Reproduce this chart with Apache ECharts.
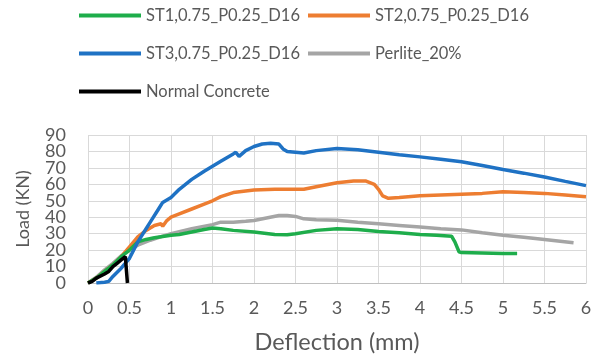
<!DOCTYPE html>
<html><head><meta charset="utf-8">
<script src="https://cdn.jsdelivr.net/npm/echarts@6/dist/echarts.min.js"></script>
<style>html,body{margin:0;padding:0;background:#fff}#c{width:603px;height:360px}</style>
</head><body><div id="c"></div>
<script>
const seriesNames = ["ST1,0.75_P0.25_D16","ST2,0.75_P0.25_D16","ST3,0.75_P0.25_D16","Perlite_20%","Normal Concrete"];
const colors = ["#1EAD4B","#ED7D31","#1F72C4","#A5A5A5","#000000"];
const xTicks = [0,0.5,1,1.5,2,2.5,3,3.5,4,4.5,5,5.5,6];
const yTicksEven = [0,20,40,60,80];
const yTicksOdd = [10,30,50,70,90];

const st1 = [[0,0],[0.1,3],[0.2,7],[0.3,11],[0.4,16],[0.5,20],[0.6,25],[0.7,26.5],[0.8,27.5],[1,29],[1.1,29.5],[1.25,31],[1.4,32.5],[1.5,33.5],[1.6,33],[1.75,32],[2,31],[2.25,29.5],[2.4,29.3],[2.5,30],[2.75,32],[3,33],[3.25,32.5],[3.5,31.3],[3.75,30.5],[4,29.5],[4.2,29],[4.38,28.5],[4.42,25],[4.47,19],[4.5,18.5],[4.75,18.3],[5,18],[5.17,18]];
const st2 = [[0,0],[0.1,3],[0.2,7],[0.3,11],[0.4,16],[0.5,22],[0.6,28],[0.7,32],[0.8,35],[0.88,36],[0.9,34.5],[0.95,38],[1,40],[1.1,42],[1.25,45],[1.4,48],[1.5,50],[1.6,52.5],[1.75,55],[1.9,56],[2,56.5],[2.25,57],[2.5,57],[2.6,57],[2.75,58.5],[3,61],[3.2,62],[3.35,62],[3.45,60],[3.5,57],[3.55,53],[3.62,51.5],[3.75,52],[4,53],[4.25,53.5],[4.5,54],[4.75,54.5],[5,55.5],[5.25,55],[5.5,54.5],[5.75,53.5],[6,52.5]];
const st3 = [[0.1,0],[0.2,0.5],[0.25,1],[0.3,4],[0.4,9],[0.5,15],[0.6,25],[0.7,33],[0.75,37],[0.85,45],[0.9,49],[1,52],[1.1,57],[1.25,63],[1.4,68],[1.5,71],[1.6,74],[1.75,78.5],[1.78,79.5],[1.82,77],[1.9,80.5],[2,83],[2.1,84.5],[2.2,85],[2.3,84.5],[2.35,81.5],[2.4,80],[2.5,79.5],[2.6,79],[2.75,80.5],[3,81.8],[3.25,81],[3.5,79.5],[3.75,78],[4,76.7],[4.25,75.2],[4.5,73.7],[4.75,71.5],[5,69],[5.25,66.8],[5.5,64.5],[5.75,61.8],[6,59.2]];
const perlite = [[0,0],[0.1,3.5],[0.2,8],[0.3,12],[0.4,16.5],[0.5,20],[0.6,23],[0.75,26],[0.9,28.5],[1,30],[1.25,33],[1.5,35.5],[1.6,37],[1.75,37],[1.9,37.5],[2,38],[2.15,39.5],[2.3,41],[2.4,41],[2.5,40.5],[2.6,39],[2.75,38.5],[3,38.2],[3.25,37],[3.5,36],[3.75,35],[4,34],[4.25,33],[4.5,32.3],[4.75,30.5],[5,29],[5.25,27.8],[5.5,26.5],[5.85,24.5]];
const normal = [[0,0],[0.05,1],[0.1,3],[0.2,5.5],[0.25,7],[0.3,10],[0.35,12],[0.4,14],[0.45,16],[0.47,17],[0.475,0]];

const dataSets = [st1, st2, st3, perlite, normal];
const font = "Lato, 'Open Sans', sans-serif";
const txt = '#595959';

const series = dataSets.map((d, i) => ({
  name: seriesNames[i], type: 'line', data: d, symbol: 'none', showSymbol: false,
  lineStyle: { color: colors[i], width: 3.5 }, itemStyle: { color: colors[i] },
  z: [3,2,4,1,5][i], animation: false
}));

const legendPos = [[74,2],[303,2],[74,40],[303,40],[74,78]];
const legends = seriesNames.map((n, i) => ({
  data: [n], left: legendPos[i][0], top: legendPos[i][1], itemWidth: 62, itemHeight: 4, itemGap: 0,
  icon: 'rect',
  textStyle: { fontFamily: font, fontSize: 16.5, color: txt, padding: [0,0,0,0] },
  selectedMode: false
}));

function yAxisDef(ticks, main) {
  return {
    type: 'value', min: 0, max: 90, interval: 10, position: 'left', offset: 0,
    name: main ? 'Load (KN)' : '', nameLocation: 'middle', nameGap: 56, nameRotate: 90,
    nameTextStyle: { fontFamily: font, fontSize: 18, color: txt },
    axisLine: { show: false }, axisTick: { show: false },
    axisLabel: { fontFamily: font, fontSize: 18, color: txt, margin: 22, showMinLabel: true, showMaxLabel: true, hideOverlap: false,
      formatter: v => ticks.includes(v) ? String(v) : '' },
    splitLine: { show: main, lineStyle: { color: '#D9D9D9' } }
  };
}

const chart = echarts.init(document.getElementById('c'));
chart.setOption({
  animation: false,
  legend: legends,
  grid: { left: 88, right: 17, top: 135, bottom: 77, containLabel: false },
  xAxis: {
    type: 'value', min: 0, max: 6, interval: 0.5,
    name: 'Deflection (mm)', nameLocation: 'middle', nameGap: 47,
    nameTextStyle: { fontFamily: font, fontSize: 23.5, color: txt },
    axisLine: { show: true, lineStyle: { color: '#BFBFBF' } }, axisTick: { show: false },
    axisLabel: { fontFamily: font, fontSize: 18, color: txt, margin: 16, showMinLabel: true, showMaxLabel: true, hideOverlap: false,
      formatter: v => xTicks.includes(v) ? String(v) : '' },
    splitLine: { show: true, lineStyle: { color: '#D9D9D9' } }
  },
  yAxis: [yAxisDef(yTicksEven, true), yAxisDef(yTicksOdd, false)],
  series
});
</script></body></html>
